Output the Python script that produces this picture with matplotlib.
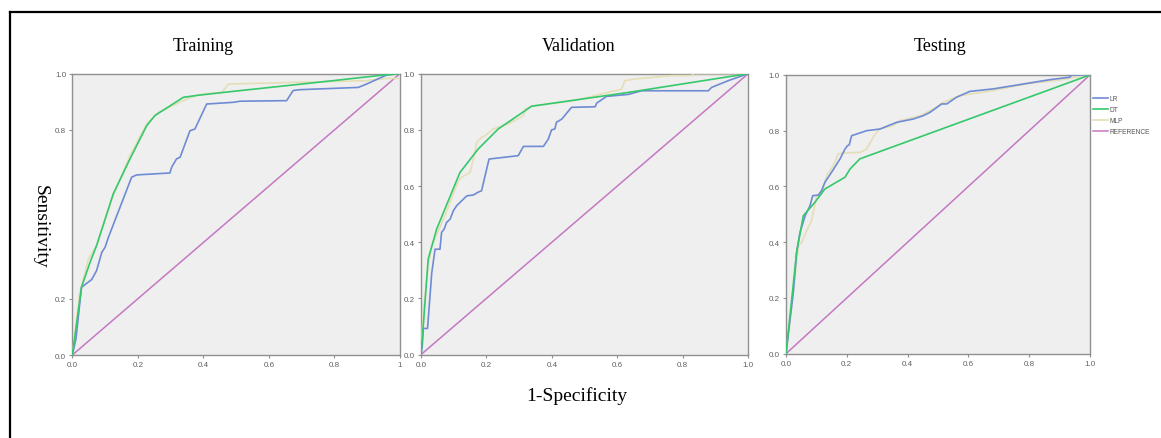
import matplotlib.pyplot as plt
from matplotlib.lines import Line2D

# ROC-Kurven: Training / Validation / Testing
panels = ['Training', 'Validation', 'Testing']
models = ['LR', 'DT', 'MLP', 'REFERENCE']
colors = {'LR': '#6f8bd4', 'DT': '#36c86c', 'MLP': '#e4dfb6', 'REFERENCE': '#c478c4'}

# Training
tr_lr_x = [0, 0.011, 0.028, 0.059, 0.074, 0.090, 0.100, 0.110, 0.120, 0.181, 0.196, 0.298, 0.303, 0.318,
           0.329, 0.359, 0.374, 0.410, 0.491, 0.512, 0.654, 0.674, 0.695, 0.873, 0.898, 0.959, 1.0]
tr_lr_y = [0, 0.057, 0.241, 0.268, 0.300, 0.365, 0.383, 0.418, 0.448, 0.632, 0.640, 0.647, 0.667, 0.697,
           0.703, 0.797, 0.803, 0.892, 0.898, 0.902, 0.904, 0.940, 0.943, 0.951, 0.963, 0.995, 1.0]
tr_dt_x = [0, 0.028, 0.054, 0.074, 0.125, 0.176, 0.227, 0.252, 0.268, 0.339, 0.390, 0.491, 0.796, 0.949, 1.0]
tr_dt_y = [0, 0.241, 0.329, 0.389, 0.573, 0.697, 0.815, 0.851, 0.863, 0.916, 0.924, 0.937, 0.975, 0.995, 1.0]
tr_mlp_x = [0, 0.023, 0.049, 0.074, 0.125, 0.176, 0.227, 0.263, 0.350, 0.381, 0.457, 0.476, 0.898, 0.959, 1.0, 1.0]
tr_mlp_y = [0, 0.223, 0.341, 0.389, 0.567, 0.709, 0.821, 0.863, 0.910, 0.924, 0.934, 0.963, 0.975, 0.983, 0.983, 1.0]

# Validation
va_lr_x = [0, 0.004, 0.007, 0.020, 0.033, 0.043, 0.058, 0.063, 0.071, 0.078, 0.089, 0.099, 0.109, 0.140,
           0.160, 0.173, 0.185, 0.208, 0.297, 0.313, 0.374, 0.389, 0.399, 0.409, 0.414, 0.430, 0.460,
           0.532, 0.537, 0.567, 0.633, 0.674, 0.878, 0.888, 0.939, 1.0]
va_lr_y = [0, 0.031, 0.093, 0.093, 0.292, 0.375, 0.375, 0.435, 0.447, 0.470, 0.482, 0.512, 0.530, 0.565,
           0.568, 0.577, 0.583, 0.696, 0.708, 0.741, 0.741, 0.767, 0.800, 0.803, 0.827, 0.838, 0.880,
           0.882, 0.895, 0.919, 0.926, 0.939, 0.939, 0.951, 0.975, 1.0]
va_dt_x = [0, 0.007, 0.022, 0.048, 0.119, 0.175, 0.236, 0.338, 0.633, 1.0]
va_dt_y = [0, 0.102, 0.340, 0.447, 0.648, 0.732, 0.803, 0.884, 0.933, 1.0]
va_mlp_x = [0, 0.007, 0.022, 0.033, 0.073, 0.114, 0.124, 0.150, 0.160, 0.170, 0.185, 0.196, 0.221, 0.267,
            0.313, 0.318, 0.338, 0.470, 0.532, 0.613, 0.623, 0.654, 0.766, 0.827, 0.832, 1.0]
va_mlp_y = [0, 0.150, 0.316, 0.387, 0.494, 0.619, 0.631, 0.648, 0.696, 0.755, 0.773, 0.779, 0.803, 0.821,
            0.850, 0.874, 0.884, 0.904, 0.922, 0.945, 0.975, 0.981, 0.993, 0.993, 1.0, 1.0]

# Testing
te_lr_x = [0, 0.024, 0.035, 0.046, 0.063, 0.079, 0.088, 0.106, 0.117, 0.128, 0.150, 0.178, 0.194, 0.202,
           0.208, 0.216, 0.265, 0.309, 0.364, 0.419, 0.452, 0.474, 0.512, 0.529, 0.561, 0.605, 0.682,
           0.868, 0.934, 0.940, 1.0]
te_lr_y = [0, 0.220, 0.364, 0.435, 0.495, 0.531, 0.567, 0.569, 0.585, 0.615, 0.651, 0.699, 0.734, 0.746,
           0.749, 0.782, 0.800, 0.806, 0.830, 0.842, 0.854, 0.866, 0.896, 0.896, 0.920, 0.941, 0.950,
           0.983, 0.992, 1.0, 1.0]
te_dt_x = [0, 0.035, 0.057, 0.095, 0.128, 0.194, 0.211, 0.243, 1.0]
te_dt_y = [0, 0.364, 0.495, 0.543, 0.591, 0.633, 0.663, 0.699, 1.0]
te_mlp_x = [0, 0.024, 0.041, 0.052, 0.068, 0.084, 0.101, 0.117, 0.134, 0.156, 0.172, 0.189, 0.243, 0.265,
            0.293, 0.309, 0.353, 0.375, 0.441, 0.485, 0.518, 0.572, 0.682, 0.792, 0.901, 1.0]
te_mlp_y = [0, 0.220, 0.388, 0.400, 0.441, 0.477, 0.567, 0.573, 0.639, 0.675, 0.717, 0.720, 0.722, 0.734,
            0.788, 0.806, 0.818, 0.836, 0.854, 0.878, 0.902, 0.926, 0.944, 0.968, 0.982, 1.0]

ref_x = [0, 1]
ref_y = [0, 1]

curves = {
    'Training': {'LR': (tr_lr_x, tr_lr_y), 'DT': (tr_dt_x, tr_dt_y), 'MLP': (tr_mlp_x, tr_mlp_y)},
    'Validation': {'LR': (va_lr_x, va_lr_y), 'DT': (va_dt_x, va_dt_y), 'MLP': (va_mlp_x, va_mlp_y)},
    'Testing': {'LR': (te_lr_x, te_lr_y), 'DT': (te_dt_x, te_dt_y), 'MLP': (te_mlp_x, te_mlp_y)},
}

plt.rcParams['font.family'] = 'Liberation Sans'

fig = plt.figure(figsize=(11.61, 4.39), dpi=100)

# Positionen der Achsen (Figurkoordinaten)
boxes = [[0.0623, 0.189, 0.2822, 0.641],
         [0.3626, 0.190, 0.2819, 0.640],
         [0.6770, 0.192, 0.2618, 0.635]]
title_x = [0.175, 0.498, 0.810]

for i, name in enumerate(panels):
    ax = fig.add_axes(boxes[i])
    ax.set_facecolor('#efefef')
    ax.plot(ref_x, ref_y, color=colors['REFERENCE'], lw=1.1, label='REFERENCE', zorder=2)
    for m in ['MLP', 'LR', 'DT']:
        x, y = curves[name][m]
        ax.plot(x, y, color=colors[m], lw=1.2, label=m, zorder=3)
    ax.set_xlim(0, 1)
    ax.set_ylim(0, 1)
    ax.set_xticks([0, 0.2, 0.4, 0.6, 0.8, 1.0])
    if i == 0:
        ax.set_xticklabels(['0.0', '0.2', '0.4', '0.6', '0.8', '1'])
        ax.set_yticks([0, 0.2, 0.8, 1.0])
        ax.set_yticklabels(['0.0', '0.2', '0.8', '1.0'])
    else:
        ax.set_xticklabels(['0.0', '0.2', '0.4', '0.6', '0.8', '1.0'])
        ax.set_yticks([0, 0.2, 0.4, 0.6, 0.8, 1.0])
        ax.set_yticklabels(['0.0', '0.2', '0.4', '0.6', '0.8', '1.0'])
    ax.tick_params(labelsize=5.8, labelcolor='#606060', color='#909090', length=2.5, width=0.8, pad=2)
    for s in ax.spines.values():
        s.set_color('#909090')
        s.set_linewidth(1.0)
    fig.text(title_x[i], 0.893, name, ha='center', va='center', fontsize=13, family='Liberation Serif')
    if i == 2:
        h, l = ax.get_legend_handles_labels()
        order = [l.index(m) for m in models]
        ax.legend([h[k] for k in order], models, loc='upper left',
                  bbox_to_anchor=(1093 / 1161, 1 - 96 / 439), bbox_transform=fig.transFigure,
                  frameon=False, fontsize=4.8, handlelength=2.2, handletextpad=0.2,
                  labelspacing=0.6, borderpad=0, borderaxespad=0, labelcolor='#555555')

fig.text(0.0345, 0.483, 'Sensitivity', rotation=270, ha='center', va='center',
         fontsize=14, family='Liberation Serif')
fig.text(0.497, 0.098, '1-Specificity', ha='center', va='center',
         fontsize=14, family='Liberation Serif')

# Rahmen oben und links
fig.add_artist(Line2D([0.0086, 0.0086], [0, 0.9715], transform=fig.transFigure, color='black', lw=1.6))
fig.add_artist(Line2D([0.0086, 1.0], [0.9715, 0.9715], transform=fig.transFigure, color='black', lw=1.6))

plt.savefig('out.png', dpi=100)
